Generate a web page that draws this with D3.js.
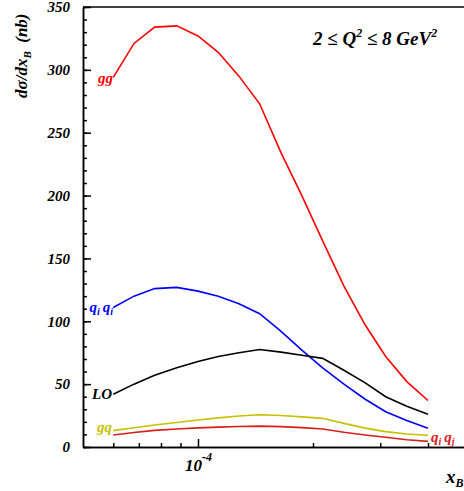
<!DOCTYPE html>
<html lang="en">
<head>
    <meta charset="UTF-8">
    <title>dsigma/dxB</title>
    <script src="https://d3js.org/d3.v7.min.js"></script>
    <style>
        body { margin: 0; background: #fff; }
        svg { display: block; }
        text { font-family: "Liberation Serif", "DejaVu Serif", serif; font-style: italic; font-weight: bold; }
        .axis path, .axis line { stroke: #000; stroke-width: 1.5; }
        .axis text { font-size: 15px; fill: #000; }
        .curve { fill: none; stroke-width: 1.6; }
    </style>
</head>
<body>
    <svg id="chart"></svg>

    <script>
        // x_B values (shared by all curves)
        var xB = [6.0e-5, 6.8e-5, 7.7e-5, 8.8e-5, 1.0e-4, 1.13e-4, 1.28e-4, 1.45e-4,
                  1.65e-4, 1.87e-4, 2.12e-4, 2.41e-4, 2.74e-4, 3.1e-4, 3.52e-4, 4.0e-4];

        var gg   = [294, 321, 334, 335, 327, 314, 295, 273, 234, 200, 164, 128, 97, 72, 52, 37];
        var qiqi = [111, 120, 126, 127, 124, 120, 114, 106, 92, 77, 63, 50, 38, 28, 21, 15];
        var lo   = [42, 50, 57, 63, 68, 72, 75, 77.5, 75.5, 73, 70.5, 61, 51, 40, 32.5, 26];
        var gq   = [13, 15.3, 17.5, 19.5, 21.5, 23.2, 24.7, 25.7, 25, 24, 22.8, 18.8, 15, 12.2, 10.3, 9.3];
        var qiqj = [9.5, 11.5, 13.2, 14.3, 15.2, 15.8, 16.3, 16.6, 16.2, 15.4, 14.3, 11.7, 9.5, 7.7, 5.8, 4.5];

        var yMajor = [0, 50, 100, 150, 200, 250, 300, 350];
        var yMinor = d3.range(0, 351, 10);
        var xMajor = [1e-4];
        var xMinor = [6e-5, 7e-5, 8e-5, 9e-5, 2e-4, 3e-4, 4e-4];

        var width = 464, height = 491;
        var mLeft = 83, mRight = 465, mTop = 7, mBottom = 447;

        var svg = d3.select("#chart")
            .attr("width", width)
            .attr("height", height);

        var x = d3.scaleLog().domain([5e-5, 5e-4]).range([mLeft, mRight]);
        var y = d3.scaleLinear().domain([0, 350]).range([mBottom, mTop]);

        // top frame line
        svg.append("line")
            .attr("x1", mLeft).attr("x2", mRight)
            .attr("y1", mTop).attr("y2", mTop)
            .attr("stroke", "#000").attr("stroke-width", 1.5);

        // y axis
        svg.append("g").attr("class", "axis")
            .attr("transform", "translate(" + mLeft + ",0)")
            .call(d3.axisLeft(y).tickValues(yMinor).tickSizeInner(-4).tickSizeOuter(0).tickFormat(""));
        svg.append("g").attr("class", "axis")
            .attr("transform", "translate(" + mLeft + ",0)")
            .call(d3.axisLeft(y).tickValues(yMajor).tickSizeInner(-8).tickSizeOuter(0).tickPadding(13));

        // x axis
        svg.append("g").attr("class", "axis")
            .attr("transform", "translate(0," + mBottom + ")")
            .call(d3.axisBottom(x).tickValues(xMinor).tickSizeInner(-4).tickSizeOuter(0).tickFormat(""));
        svg.append("g").attr("class", "axis")
            .attr("transform", "translate(0," + mBottom + ")")
            .call(d3.axisBottom(x).tickValues(xMajor).tickSizeInner(-8).tickSizeOuter(0).tickFormat(""));

        var xl = svg.append("text")
            .attr("x", x(1e-4) - 13).attr("y", 471)
            .style("font-size", "17px");
        xl.append("tspan").text("10");
        xl.append("tspan").attr("dy", -10).style("font-size", "12px").text("-4");

        var xt = svg.append("text")
            .attr("x", 446).attr("y", 483)
            .style("font-size", "19px");
        xt.append("tspan").text("x");
        xt.append("tspan").attr("dy", 4).style("font-size", "12px").text("B");

        // y title
        var yt = svg.append("text")
            .attr("transform", "translate(27,98) rotate(-90)")
            .style("font-size", "17px");
        yt.append("tspan").text("d\u03c3/dx");
        yt.append("tspan").attr("dy", 4).style("font-size", "11px").text("B");
        yt.append("tspan").attr("dy", -4).text("\u00a0 (nb)");

        // Q^2 range
        var qt = svg.append("text")
            .attr("x", 313).attr("y", 45)
            .style("font-size", "19px");
        qt.append("tspan").text("2 \u2264 Q");
        qt.append("tspan").attr("dy", -8).style("font-size", "12px").text("2");
        qt.append("tspan").attr("dy", 8).text(" \u2264 8 GeV");
        qt.append("tspan").attr("dy", -8).style("font-size", "12px").text("2");

        // curves
        var curves = [
            { vals: gg, color: "#ff0000" },
            { vals: qiqi, color: "#0000ff" },
            { vals: lo, color: "#000000" },
            { vals: gq, color: "#c8c000" },
            { vals: qiqj, color: "#d8201a" }
        ];

        var line = d3.line()
            .x(function(d, i) { return x(xB[i]); })
            .y(function(d) { return y(d); });

        svg.selectAll(".curve")
            .data(curves)
            .enter().append("path")
            .attr("class", "curve")
            .attr("stroke", function(d) { return d.color; })
            .attr("d", function(d) { return line(d.vals); });

        // curve labels
        function label(px, py, parts, color, anchor) {
            var t = svg.append("text")
                .attr("x", px).attr("y", py)
                .attr("text-anchor", anchor)
                .attr("fill", color)
                .style("font-size", "15px");
            parts.forEach(function(p) {
                t.append("tspan")
                    .attr("dy", p.dy || 0)
                    .style("font-size", p.size || "15px")
                    .text(p.t);
            });
        }

        label(113, 83, [{ t: "gg" }], "#ff0000", "end");
        label(113, 312, [{ t: "q" }, { t: "i", dy: 3, size: "10px" }, { t: "\u2009q", dy: -3 }, { t: "i", dy: 3, size: "10px" }], "#0000ff", "end");
        label(112, 399, [{ t: "LO" }], "#000000", "end");
        label(112, 432, [{ t: "gq" }], "#c8c000", "end");
        label(431, 442, [{ t: "q" }, { t: "i", dy: 3, size: "10px" }, { t: "\u2009q", dy: -3 }, { t: "j", dy: 3, size: "10px" }], "#d8201a", "start");
    </script>
</body>
</html>
